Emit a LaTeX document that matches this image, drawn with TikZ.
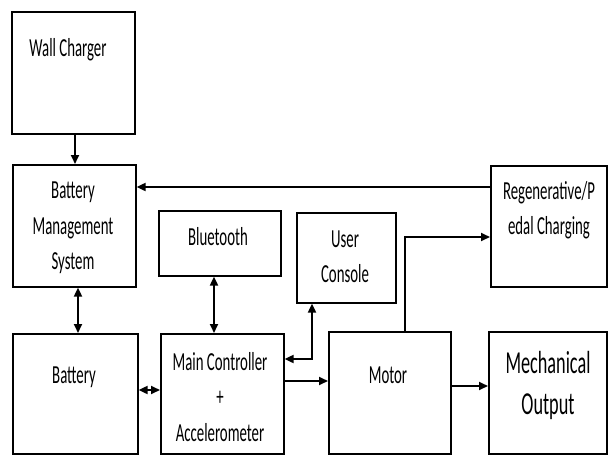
\documentclass[tikz,border=0pt]{standalone}
\usepackage{fontspec}
\setmainfont{Carlito}[FakeStretch=0.57]
\usetikzlibrary{arrows.meta}
\begin{document}
\begin{tikzpicture}[x=1pt,y=-1pt,
 box/.style={draw, line width=1.6pt, inner sep=0pt, anchor=north west},
 lbl/.style={align=center, inner sep=0pt, font=\fontsize{26}{35.5}\selectfont},
 big/.style={align=center, inner sep=0pt, font=\fontsize{32}{41}\selectfont},
 tip/.tip={Triangle[length=9pt,width=8pt]},
 arr/.style={line width=1.8pt, -tip},
 darr/.style={line width=1.8pt, tip-tip}]
\useasboundingbox[fill=white] (0,0) rectangle (608,455);
% boxes
\node[box, minimum width=123pt, minimum height=122pt] (wc) at (11,11) {};
\node[box, minimum width=123pt, minimum height=122pt] (bms) at (12,164) {};
\node[box, minimum width=122pt, minimum height=65pt] (bt) at (158,210) {};
\node[box, minimum width=99pt, minimum height=90pt] (uc) at (296,212) {};
\node[box, minimum width=116pt, minimum height=121pt] (rg) at (490,165) {};
\node[box, minimum width=125pt, minimum height=120pt] (bat) at (12,333) {};
\node[box, minimum width=123pt, minimum height=120pt] (mc) at (160,333) {};
\node[box, minimum width=122pt, minimum height=122pt] (mot) at (328,331) {};
\node[box, minimum width=118pt, minimum height=122pt] (mo) at (488,331) {};
% texts
\node[lbl] (twc) at (68,50) {Wall Charger};
\node[lbl] (tbms) at (73,228) {Battery\\Management\\System};
\node[lbl] (tbt) at (218,237) {Bluetooth};
\node[lbl] (tuc) at (345,257) {User\\Console};
\node[lbl] (trg) at (549,210) {Regenerative/P\\edal Charging};
\node[lbl] (tbat) at (74,377) {Battery};
\node[lbl] (tmc) at (220,397) {Main Controller\\+\\Accelerometer};
\node[lbl] (tmot) at (388,375) {Motor};
\node[big] (tmo) at (548,385) {Mechanical\\Output};
% guides
\coordinate (gx75) at (75,0);
\coordinate (gx78) at (78,0);
\coordinate (gx214) at (214,0);
\coordinate (gx312) at (312,0);
\coordinate (gx405) at (405,0);
\coordinate (gy187) at (0,187);
\coordinate (gy390) at (0,390);
\coordinate (gy359) at (0,359);
\coordinate (gy381) at (0,381);
\coordinate (gy386) at (0,386);
\coordinate (gy237) at (0,237);
% connectors
\draw[arr] (wc.south -| gx75) -- (bms.north -| gx75);
\draw[arr] (rg.west |- gy187) -- (bms.east |- gy187);
\draw[darr] (bms.south -| gx78) -- (bat.north -| gx78);
\draw[darr] (bt.south -| gx214) -- (mc.north -| gx214);
\draw[darr] (bat.east |- gy390) -- (mc.west |- gy390);
\draw[darr] (uc.south -| gx312) |- (mc.east |- gy359);
\draw[arr] (mc.east |- gy381) -- (mot.west |- gy381);
\draw[arr] (mot.east |- gy386) -- (mo.west |- gy386);
\draw[arr] (mot.north -| gx405) |- (rg.west |- gy237);
\end{tikzpicture}
\end{document}
